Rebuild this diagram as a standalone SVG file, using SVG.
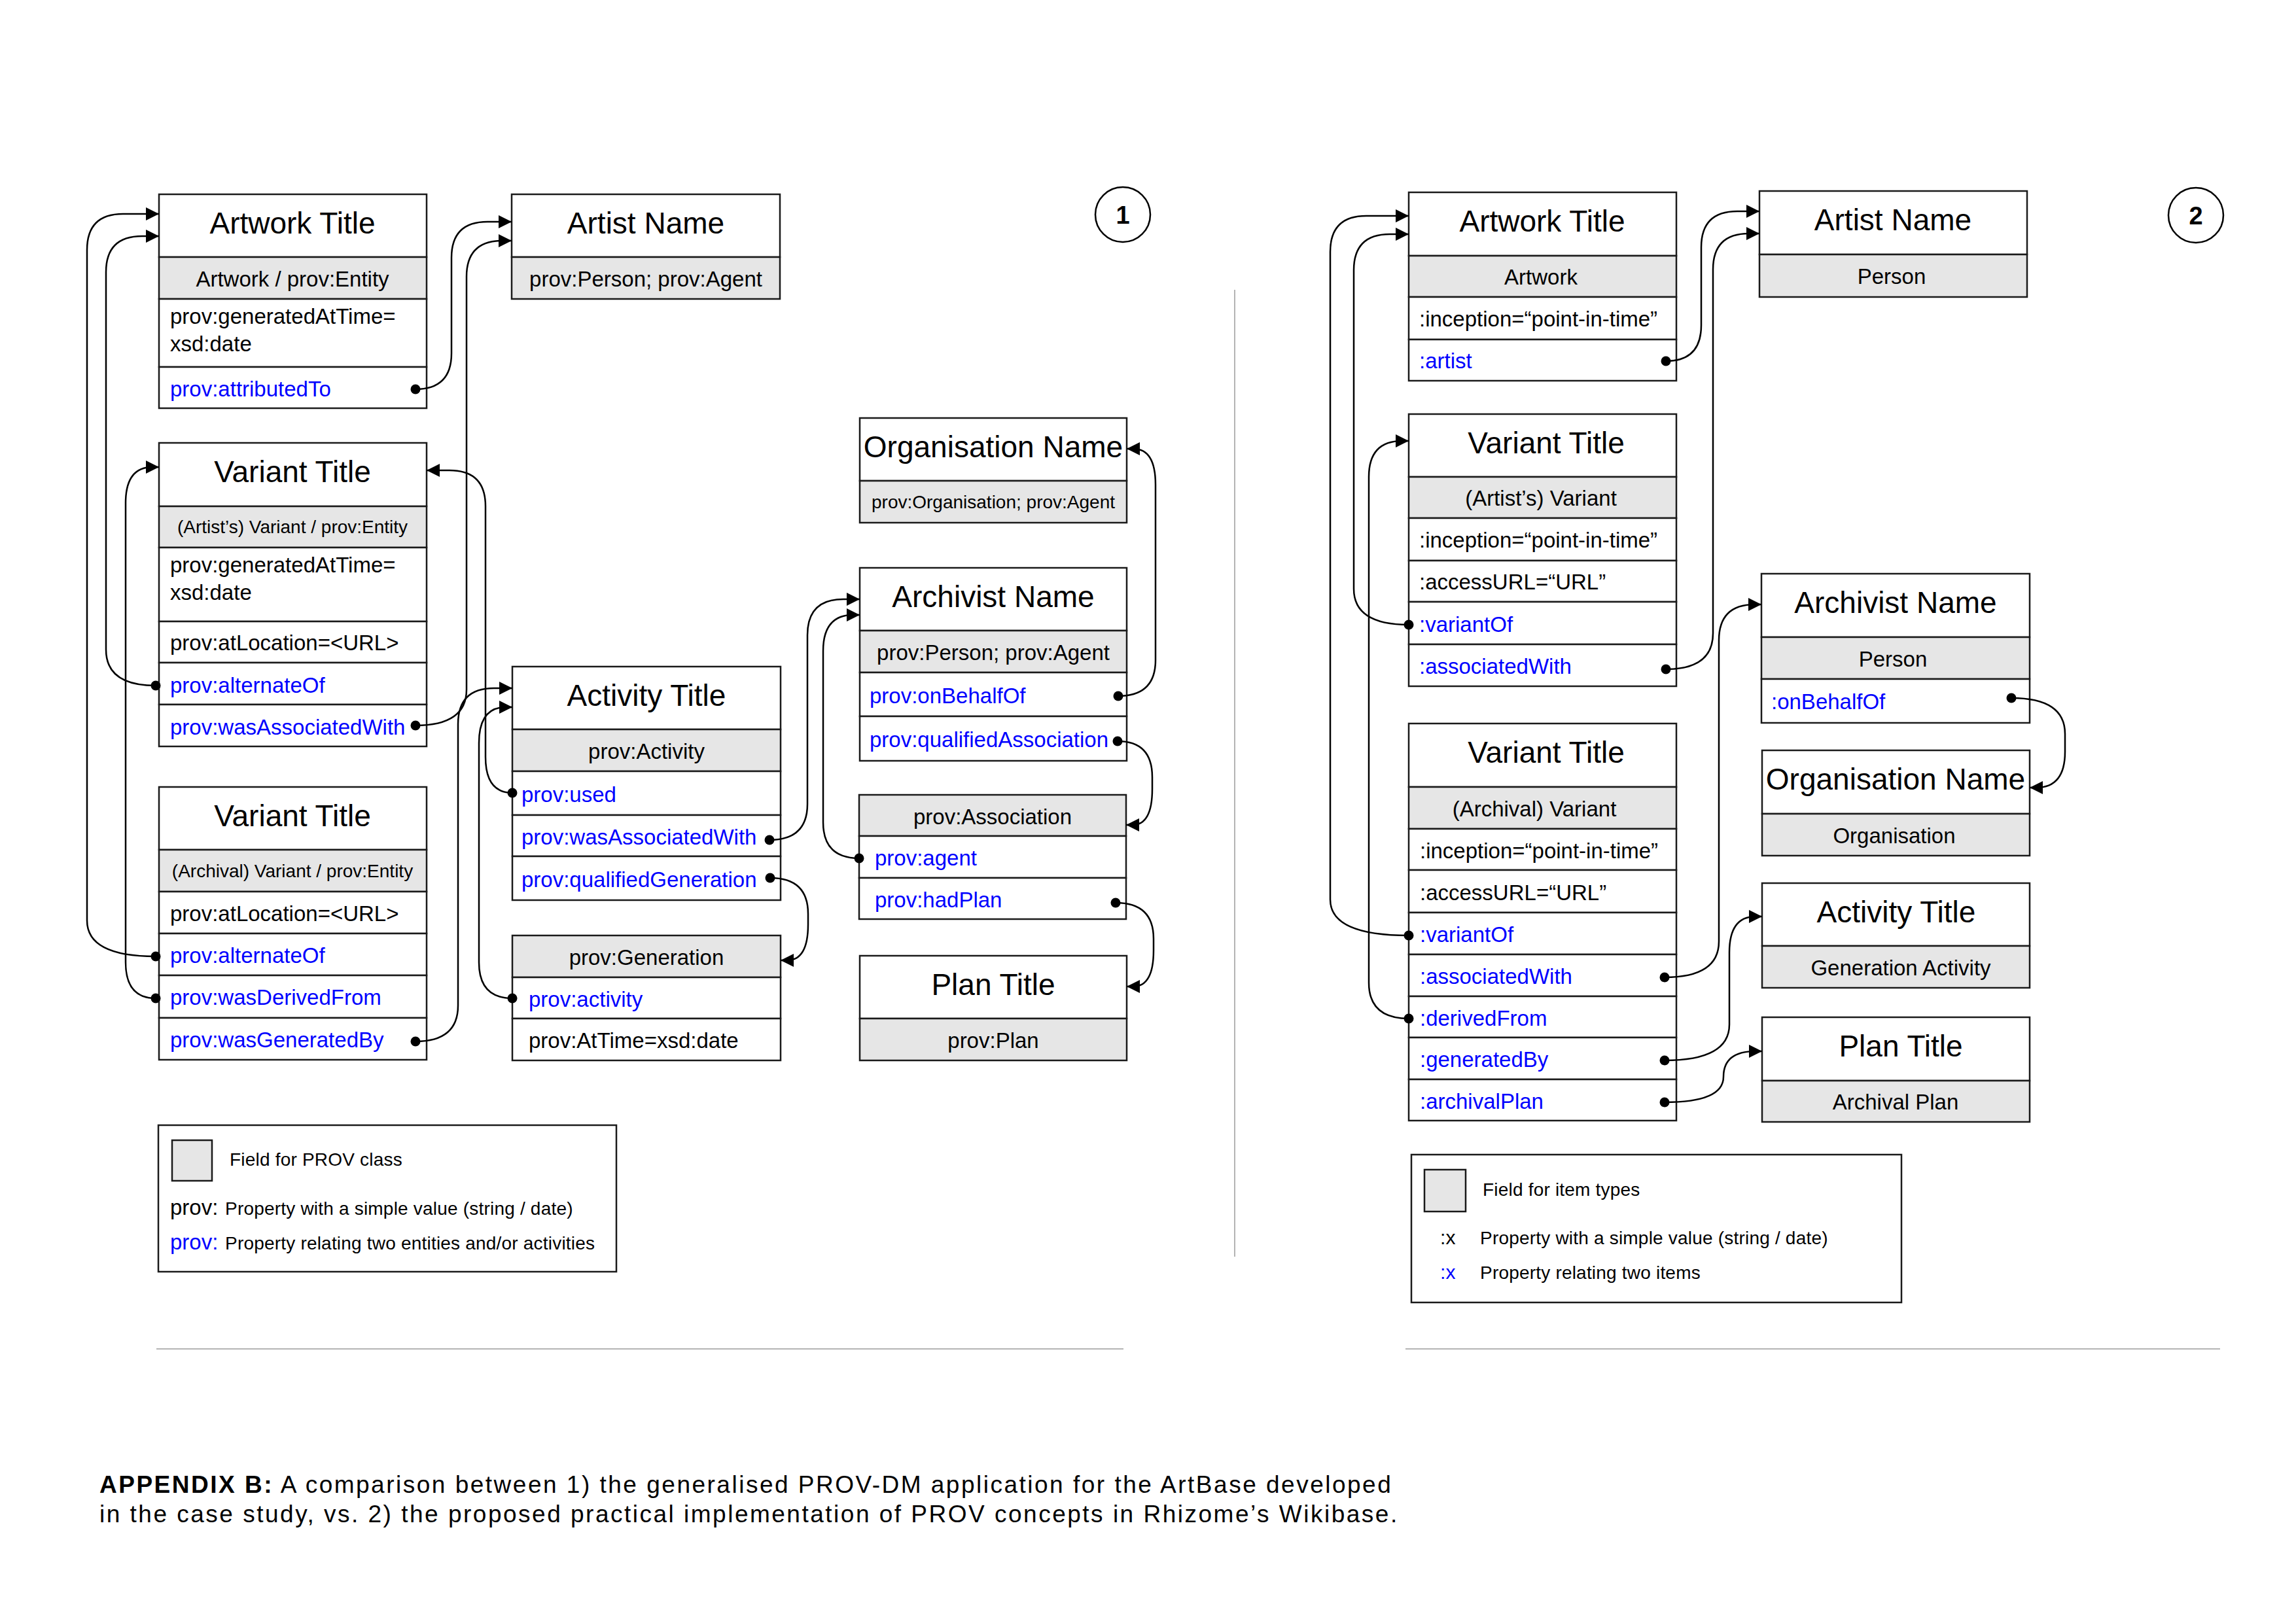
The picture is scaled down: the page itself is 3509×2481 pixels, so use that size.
<svg xmlns="http://www.w3.org/2000/svg" width="3509" height="2481" viewBox="0 0 3509 2481">
<style>
text{font-family:"Liberation Sans",Arial,Helvetica,sans-serif;fill:#000}
.box{fill:#fff;stroke:#1a1a1a;stroke-width:2.5}
.cls{fill:#e6e6e6;stroke:#1a1a1a;stroke-width:2.5}
.t{font-size:46px;text-anchor:middle}
.c{font-size:33px;text-anchor:middle}
.c2{font-size:28px;text-anchor:middle}
.p{font-size:33px}
.b{fill:#0000ff}
.lg{font-size:28px;letter-spacing:0.2px}
.conn{fill:none;stroke:#000;stroke-width:2.5;marker-start:url(#dot);marker-end:url(#arrow)}
.sep{stroke:#b4b4b4;stroke-width:2}
.num{font-size:38px;font-weight:bold;text-anchor:middle}
.cap{font-size:37px;letter-spacing:2.5px}
</style>
<defs>
<marker id="arrow" viewBox="0 0 20 20" refX="20" refY="10" markerWidth="20" markerHeight="20" markerUnits="userSpaceOnUse" orient="auto"><path d="M0,0 L20,10 L0,20 z" fill="#000"/></marker>
<marker id="dot" viewBox="0 0 16 16" refX="8" refY="8" markerWidth="16" markerHeight="16" markerUnits="userSpaceOnUse"><circle cx="8" cy="8" r="7.5" fill="#000"/></marker>
</defs>
<rect width="3509" height="2481" fill="#fff"/>

<!-- separators -->
<g id="separators">
<line class="sep" x1="1887" y1="443" x2="1887" y2="1921"/>
<line class="sep" x1="239" y1="2062" x2="1717" y2="2062"/>
<line class="sep" x1="2148" y1="2062" x2="3393" y2="2062"/>
</g>

<!-- ============ PANEL 1 ============ -->
<g id="p1-number">
<circle cx="1716" cy="328" r="42" fill="#fff" stroke="#000" stroke-width="2.5"/>
<text class="num" x="1716" y="342">1</text>
</g>

<g id="p1-artwork">
<rect class="box" x="243" y="297" width="409" height="96"/>
<rect class="cls" x="243" y="393" width="409" height="64"/>
<rect class="box" x="243" y="457" width="409" height="104"/>
<rect class="box" x="243" y="561" width="409" height="63"/>
<text class="t" x="447" y="357">Artwork Title</text>
<text class="c" x="447" y="438">Artwork / prov:Entity</text>
<text class="p" x="260" y="495">prov:generatedAtTime=</text>
<text class="p" x="260" y="537">xsd:date</text>
<text class="p b" x="260" y="606">prov:attributedTo</text>
</g>

<g id="p1-artist">
<rect class="box" x="782" y="297" width="410" height="96"/>
<rect class="cls" x="782" y="393" width="410" height="64"/>
<text class="t" x="987" y="357">Artist Name</text>
<text class="c" x="987" y="438">prov:Person; prov:Agent</text>
</g>

<g id="p1-variant-artist">
<rect class="box" x="243" y="677" width="409" height="97"/>
<rect class="cls" x="243" y="774" width="409" height="63"/>
<rect class="box" x="243" y="837" width="409" height="113"/>
<rect class="box" x="243" y="950" width="409" height="63"/>
<rect class="box" x="243" y="1013" width="409" height="64"/>
<rect class="box" x="243" y="1077" width="409" height="64"/>
<text class="t" x="447" y="737">Variant Title</text>
<text class="c2" x="447" y="815">(Artist’s) Variant / prov:Entity</text>
<text class="p" x="260" y="875">prov:generatedAtTime=</text>
<text class="p" x="260" y="917">xsd:date</text>
<text class="p" x="260" y="994">prov:atLocation=&lt;URL&gt;</text>
<text class="p b" x="260" y="1059">prov:alternateOf</text>
<text class="p b" x="260" y="1123">prov:wasAssociatedWith</text>
</g>

<g id="p1-variant-archival">
<rect class="box" x="243" y="1203" width="409" height="96"/>
<rect class="cls" x="243" y="1299" width="409" height="64"/>
<rect class="box" x="243" y="1363" width="409" height="64"/>
<rect class="box" x="243" y="1427" width="409" height="64"/>
<rect class="box" x="243" y="1491" width="409" height="65"/>
<rect class="box" x="243" y="1556" width="409" height="64"/>
<text class="t" x="447" y="1263">Variant Title</text>
<text class="c2" x="447" y="1341">(Archival) Variant / prov:Entity</text>
<text class="p" x="260" y="1408">prov:atLocation=&lt;URL&gt;</text>
<text class="p b" x="260" y="1472">prov:alternateOf</text>
<text class="p b" x="260" y="1536">prov:wasDerivedFrom</text>
<text class="p b" x="260" y="1601">prov:wasGeneratedBy</text>
</g>

<g id="p1-activity">
<rect class="box" x="783" y="1019" width="410" height="96"/>
<rect class="cls" x="783" y="1115" width="410" height="64"/>
<rect class="box" x="783" y="1179" width="410" height="67"/>
<rect class="box" x="783" y="1246" width="410" height="63"/>
<rect class="box" x="783" y="1309" width="410" height="67"/>
<text class="t" x="988" y="1079">Activity Title</text>
<text class="c" x="988" y="1160">prov:Activity</text>
<text class="p b" x="797" y="1226">prov:used</text>
<text class="p b" x="797" y="1291">prov:wasAssociatedWith</text>
<text class="p b" x="797" y="1356">prov:qualifiedGeneration</text>
</g>

<g id="p1-generation">
<rect class="cls" x="783" y="1430" width="410" height="64"/>
<rect class="box" x="783" y="1494" width="410" height="63"/>
<rect class="box" x="783" y="1557" width="410" height="64"/>
<text class="c" x="988" y="1475">prov:Generation</text>
<text class="p b" x="808" y="1539">prov:activity</text>
<text class="p" x="808" y="1602">prov:AtTime=xsd:date</text>
</g>

<g id="p1-organisation">
<rect class="box" x="1314" y="639" width="408" height="96"/>
<rect class="cls" x="1314" y="735" width="408" height="64"/>
<text class="t" x="1518" y="699">Organisation Name</text>
<text class="c2" x="1518" y="777">prov:Organisation; prov:Agent</text>
</g>

<g id="p1-archivist">
<rect class="box" x="1314" y="868" width="408" height="96"/>
<rect class="cls" x="1314" y="964" width="408" height="64"/>
<rect class="box" x="1314" y="1028" width="408" height="67"/>
<rect class="box" x="1314" y="1095" width="408" height="68"/>
<text class="t" x="1518" y="928">Archivist Name</text>
<text class="c" x="1518" y="1009">prov:Person; prov:Agent</text>
<text class="p b" x="1329" y="1075">prov:onBehalfOf</text>
<text class="p b" x="1329" y="1142">prov:qualifiedAssociation</text>
</g>

<g id="p1-association">
<rect class="cls" x="1313" y="1215" width="408" height="63"/>
<rect class="box" x="1313" y="1278" width="408" height="64"/>
<rect class="box" x="1313" y="1342" width="408" height="63"/>
<text class="c" x="1517" y="1260">prov:Association</text>
<text class="p b" x="1337" y="1323">prov:agent</text>
<text class="p b" x="1337" y="1387">prov:hadPlan</text>
</g>

<g id="p1-plan">
<rect class="box" x="1314" y="1461" width="408" height="96"/>
<rect class="cls" x="1314" y="1557" width="408" height="64"/>
<text class="t" x="1518" y="1521">Plan Title</text>
<text class="c" x="1518" y="1602">prov:Plan</text>
</g>

<g id="p1-legend">
<rect class="box" x="242" y="1720" width="700" height="224"/>
<rect class="cls" x="263" y="1743" width="61" height="62"/>
<text class="lg" x="351" y="1782">Field for PROV class</text>
<text class="p" x="260" y="1857">prov:</text>
<text class="lg" x="344" y="1857">Property with a simple value (string / date)</text>
<text class="p b" x="260" y="1910">prov:</text>
<text class="lg" x="344" y="1910">Property relating two entities and/or activities</text>
</g>

<!-- ============ PANEL 2 ============ -->
<g id="p2-number">
<circle cx="3356" cy="329" r="42" fill="#fff" stroke="#000" stroke-width="2.5"/>
<text class="num" x="3356" y="343">2</text>
</g>

<g id="p2-artwork">
<rect class="box" x="2153" y="294" width="409" height="97"/>
<rect class="cls" x="2153" y="391" width="409" height="63"/>
<rect class="box" x="2153" y="454" width="409" height="65"/>
<rect class="box" x="2153" y="519" width="409" height="63"/>
<text class="t" x="2357" y="354">Artwork Title</text>
<text class="c" x="2355" y="435">Artwork</text>
<text class="p" x="2169" y="499">:inception=“point-in-time”</text>
<text class="p b" x="2169" y="563">:artist</text>
</g>

<g id="p2-artist">
<rect class="box" x="2689" y="292" width="409" height="97"/>
<rect class="cls" x="2689" y="389" width="409" height="65"/>
<text class="t" x="2893" y="352">Artist Name</text>
<text class="c" x="2891" y="434">Person</text>
</g>

<g id="p2-variant-artist">
<rect class="box" x="2153" y="633" width="409" height="96"/>
<rect class="cls" x="2153" y="729" width="409" height="63"/>
<rect class="box" x="2153" y="792" width="409" height="65"/>
<rect class="box" x="2153" y="857" width="409" height="63"/>
<rect class="box" x="2153" y="920" width="409" height="65"/>
<rect class="box" x="2153" y="985" width="409" height="64"/>
<text class="t" x="2363" y="693">Variant Title</text>
<text class="c" x="2355" y="773">(Artist’s) Variant</text>
<text class="p" x="2169" y="837">:inception=“point-in-time”</text>
<text class="p" x="2169" y="901">:accessURL=“URL”</text>
<text class="p b" x="2169" y="966">:variantOf</text>
<text class="p b" x="2169" y="1030">:associatedWith</text>
</g>

<g id="p2-archivist">
<rect class="box" x="2692" y="877" width="410" height="97"/>
<rect class="cls" x="2692" y="974" width="410" height="64"/>
<rect class="box" x="2692" y="1038" width="410" height="67"/>
<text class="t" x="2897" y="937">Archivist Name</text>
<text class="c" x="2893" y="1019">Person</text>
<text class="p b" x="2707" y="1084">:onBehalfOf</text>
</g>

<g id="p2-variant-archival">
<rect class="box" x="2153" y="1106" width="409" height="97"/>
<rect class="cls" x="2153" y="1203" width="409" height="64"/>
<rect class="box" x="2153" y="1267" width="409" height="63"/>
<rect class="box" x="2153" y="1330" width="409" height="65"/>
<rect class="box" x="2153" y="1395" width="409" height="64"/>
<rect class="box" x="2153" y="1459" width="409" height="64"/>
<rect class="box" x="2153" y="1523" width="409" height="63"/>
<rect class="box" x="2153" y="1586" width="409" height="64"/>
<rect class="box" x="2153" y="1650" width="409" height="63"/>
<text class="t" x="2363" y="1166">Variant Title</text>
<text class="c" x="2345" y="1248">(Archival) Variant</text>
<text class="p" x="2170" y="1312">:inception=“point-in-time”</text>
<text class="p" x="2170" y="1376">:accessURL=“URL”</text>
<text class="p b" x="2170" y="1440">:variantOf</text>
<text class="p b" x="2170" y="1504">:associatedWith</text>
<text class="p b" x="2170" y="1568">:derivedFrom</text>
<text class="p b" x="2170" y="1631">:generatedBy</text>
<text class="p b" x="2170" y="1695">:archivalPlan</text>
</g>

<g id="p2-organisation">
<rect class="box" x="2693" y="1147" width="409" height="97"/>
<rect class="cls" x="2693" y="1244" width="409" height="64"/>
<text class="t" x="2897" y="1207">Organisation Name</text>
<text class="c" x="2895" y="1289">Organisation</text>
</g>

<g id="p2-activity">
<rect class="box" x="2693" y="1350" width="409" height="96"/>
<rect class="cls" x="2693" y="1446" width="409" height="64"/>
<text class="t" x="2898" y="1410">Activity Title</text>
<text class="c" x="2905" y="1491">Generation Activity</text>
</g>

<g id="p2-plan">
<rect class="box" x="2693" y="1555" width="409" height="97"/>
<rect class="cls" x="2693" y="1652" width="409" height="63"/>
<text class="t" x="2905" y="1615">Plan Title</text>
<text class="c" x="2897" y="1696">Archival Plan</text>
</g>

<g id="p2-legend">
<rect class="box" x="2157" y="1765" width="749" height="226"/>
<rect class="cls" x="2177" y="1788" width="63" height="64"/>
<text class="lg" x="2266" y="1828">Field for item types</text>
<text class="lg" x="2201" y="1902" style="font-size:30px">:x</text>
<text class="lg" x="2262" y="1902">Property with a simple value (string / date)</text>
<text class="lg b" x="2201" y="1955" style="font-size:30px">:x</text>
<text class="lg" x="2262" y="1955">Property relating two items</text>
</g>

<!-- ============ CONNECTORS ============ -->
<g id="connectors">
<path class="conn" d="M635,595 Q690,595 690,540 L690,394 Q690,339 745,339 L782,339"/>
<path class="conn" d="M635,1109 Q713,1109 713,1054 L713,423 Q713,368 768,368 L782,368"/>
<path class="conn" d="M238,1048 Q162,1048 162,993 L162,416 Q162,361 217,361 L243,361"/>
<path class="conn" d="M238,1462 Q133,1462 133,1407 L133,382 Q133,327 188,327 L243,327"/>
<path class="conn" d="M238,1526 Q192,1526 192,1471 L192,769 Q192,714 233,714 L243,714"/>
<path class="conn" d="M783,1212 Q742,1212 742,1157 L742,774 Q742,719 687,719 L652,719"/>
<path class="conn" d="M635,1592 Q700,1592 700,1537 L700,1107 Q700,1052 755,1052 L783,1052"/>
<path class="conn" d="M783,1526 Q732,1526 732,1471 L732,1136 Q732,1081 773,1081 L783,1081"/>
<path class="conn" d="M1176,1284 Q1234,1284 1234,1229 L1234,971 Q1234,916 1289,916 L1314,916"/>
<path class="conn" d="M1177,1342 Q1235,1342 1235,1397 L1235,1413 Q1235,1468 1203,1468 L1193,1468"/>
<path class="conn" d="M1313,1312 Q1258,1312 1258,1257 L1258,995 Q1258,940 1304,940 L1314,940"/>
<path class="conn" d="M1709,1064 Q1766,1064 1766,1009 L1766,741 Q1766,686 1732,686 L1722,686"/>
<path class="conn" d="M1708,1133 Q1761,1133 1761,1188 L1761,1206 Q1761,1261 1731,1261 L1721,1261"/>
<path class="conn" d="M1705,1380 Q1763,1380 1763,1435 L1763,1453 Q1763,1508 1732,1508 L1722,1508"/>
<path class="conn" d="M2546,552 Q2600,552 2600,497 L2600,378 Q2600,323 2655,323 L2689,323"/>
<path class="conn" d="M2546,1023 Q2618,1023 2618,968 L2618,412 Q2618,357 2673,357 L2689,357"/>
<path class="conn" d="M2153,955 Q2069,955 2069,900 L2069,413 Q2069,358 2124,358 L2153,358"/>
<path class="conn" d="M2153,1430 Q2033,1430 2033,1375 L2033,385 Q2033,330 2088,330 L2153,330"/>
<path class="conn" d="M2153,1557 Q2092,1557 2092,1502 L2092,729 Q2092,674 2143,674 L2153,674"/>
<path class="conn" d="M2544,1494 Q2627,1494 2627,1439 L2627,979 Q2627,924 2682,924 L2692,924"/>
<path class="conn" d="M2544,1621 Q2643,1621 2643,1566 L2643,1456 Q2643,1401 2683,1401 L2693,1401"/>
<path class="conn" d="M2544,1685 Q2634,1685 2634,1646 Q2634,1607 2683,1607 L2693,1607"/>
<path class="conn" d="M3074,1067 Q3156,1067 3156,1122 L3156,1149 Q3156,1204 3112,1204 L3102,1204"/>
</g>

<g id="caption">
<text class="cap" x="152" y="2282"><tspan font-weight="bold">APPENDIX B:</tspan> A comparison between 1) the generalised PROV-DM application for the ArtBase developed</text>
<text class="cap" x="152" y="2327">in the case study, vs. 2) the proposed practical implementation of PROV concepts in Rhizome’s Wikibase.</text>
</g>
</svg>
